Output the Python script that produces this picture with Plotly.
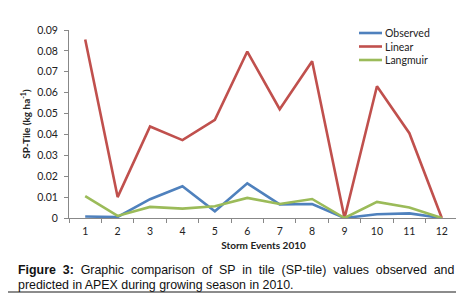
import plotly.graph_objects as go

events = ["1", "2", "3", "4", "5", "6", "7", "8", "9", "10", "11", "12"]
observed = [0.0007, 0.0005, 0.009, 0.0152, 0.0032, 0.0166, 0.0065, 0.0067, 0.0, 0.0018, 0.0022, 0.0]
linear = [0.0855, 0.0100, 0.0438, 0.0373, 0.0470, 0.0797, 0.0521, 0.0750, 0.0, 0.0631, 0.0406, 0.0]
langmuir = [0.0105, 0.0010, 0.0053, 0.0045, 0.0056, 0.0096, 0.0067, 0.0091, 0.0, 0.0077, 0.0050, 0.0]
y_ticks = [0, 0.01, 0.02, 0.03, 0.04, 0.05, 0.06, 0.07, 0.08, 0.09]
y_tick_text = ["0", "0.01", "0.02", "0.03", "0.04", "0.05", "0.06", "0.07", "0.08", "0.09"]
series_names = ["Observed", "Linear", "Langmuir"]
series_colors = ["#4F81BD", "#C0504D", "#9BBB59"]

W, H = 464, 297
L, R, T, B = 61, 14, 22, 87
pw = W - L - R
ph = H - T - B

def px_x(x):
    return (x - L) / pw

def px_y(y):
    return (H - B - y) / ph

fig = go.Figure()
for name, vals, col in zip(series_names, [observed, linear, langmuir], series_colors):
    fig.add_trace(go.Scatter(x=events, y=vals, name=name, mode="lines",
                             line=dict(color=col, width=2.6), showlegend=False))

chart_font = "Lato, Open Sans, sans-serif"
fig.update_layout(
    width=W, height=H,
    margin=dict(l=L, r=R, t=T, b=B, autoexpand=False),
    paper_bgcolor="white", plot_bgcolor="white",
    font=dict(family=chart_font, size=10.5, color="#222"),
    showlegend=False,
    xaxis=dict(type="category", range=[-0.5, 11.5], automargin=False,
               showline=True, linecolor="#888", linewidth=1,
               ticks="outside", tickson="boundaries", ticklen=4, tickcolor="#888",
               showgrid=False, tickfont=dict(size=10.5), ticklabelstandoff=3,
               title=dict(text="<b>Storm Events 2010</b>", font=dict(size=10), standoff=6)),
    yaxis=dict(range=[0, 0.09], tickvals=y_ticks, ticktext=y_tick_text, automargin=False,
               showline=True, linecolor="#888", linewidth=1, ticks="outside",
               ticklen=4, tickcolor="#888", showgrid=False, zeroline=False,
               tickfont=dict(size=10.5), ticklabelstandoff=4,
               title=dict(text="<b>SP-Tile (kg ha<sup>-1</sup>)</b>", font=dict(size=10), standoff=4)),
)

# legend (manual, to match compact row spacing)
for i, (name, col) in enumerate(zip(series_names, series_colors)):
    yy = 25 + i * 13.5
    fig.add_shape(type="line", xref="paper", yref="paper",
                  x0=px_x(351), x1=px_x(374), y0=px_y(yy), y1=px_y(yy),
                  line=dict(color=col, width=2.6))
    fig.add_annotation(xref="paper", yref="paper", x=px_x(375), y=px_y(yy),
                       xanchor="left", yanchor="middle", showarrow=False,
                       text=name, font=dict(size=10.5, color="#222"))

cap_font = dict(family="Liberation Sans, Arial, sans-serif", size=12.4, color="#111")
line1 = "<b>Figure 3:</b> Graphic comparison of SP in tile (SP-tile) values observed and"
line1 = line1.replace("> ", ">&nbsp;&nbsp;")
parts = line1.split(" ")
line1 = " &nbsp;".join(parts)
fig.add_annotation(xref="paper", yref="paper", x=px_x(8), y=px_y(262),
                   xanchor="left", yanchor="middle", showarrow=False,
                   text=line1, font=cap_font)
fig.add_annotation(xref="paper", yref="paper", x=px_x(8), y=px_y(277),
                   xanchor="left", yanchor="middle", showarrow=False,
                   text="predicted in APEX during growing season in 2010.",
                   font=cap_font)
fig.add_shape(type="line", xref="paper", yref="paper",
              x0=px_x(0), x1=px_x(462), y0=px_y(284), y1=px_y(284),
              line=dict(color="#666", width=1.5))

fig.write_html("out.html")
